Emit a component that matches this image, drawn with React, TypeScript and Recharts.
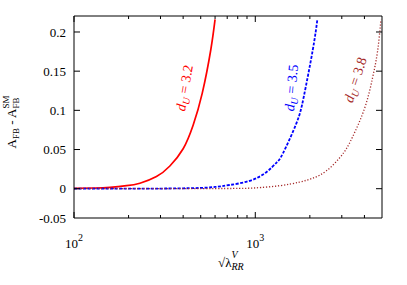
import { Line, LineChart, XAxis, YAxis } from "recharts";

const font = '"Liberation Serif", "DejaVu Serif", "Times New Roman", serif';

// sqrt(lambda) vs A_FB - A_FB^SM
const redX = [100, 130, 158, 195, 231, 285, 338, 400, 454, 510, 568, 600];
const redY = [0.00045, 0.0009, 0.0018, 0.0038, 0.007, 0.0155, 0.029, 0.051, 0.081, 0.122, 0.177, 0.216];

const blueX = [100, 250, 400, 500, 600, 720, 930, 1150, 1306, 1420, 1683, 1850, 2075, 2200];
const blueY = [0, 0.0001, 0.0005, 0.001, 0.0022, 0.0047, 0.01, 0.021, 0.033, 0.045, 0.083, 0.117, 0.177, 0.216];

const brownX = [100, 600, 1000, 1360, 1750, 2080, 2460, 2910, 3200, 3440, 4000, 4440, 4730, 4930];
const brownY = [0, 0.0002, 0.001, 0.0038, 0.0084, 0.0135, 0.0225, 0.039, 0.052, 0.066, 0.102, 0.142, 0.176, 0.216];

const xTicks = [100, 200, 300, 400, 500, 600, 700, 800, 900, 1000, 2000, 3000, 4000];
const xMajor = [100, 1000];
// the frame is cut a little above -0.05 in the picture; its bottom edge carries the "-0.05" label
const yMin = -0.0374;
const yMax = 0.2204;
const yTicks = [yMin, 0, 0.05, 0.1, 0.15, 0.2];
const yTickLabels = ["-0.05", "0", "0.05", "0.1", "0.15", "0.2"];

const toPoints = (xs: number[], ys: number[]) => xs.map((x, i) => ({ x, y: ys[i] }));
const red = toPoints(redX, redY);
const blue = toPoints(blueX, blueY);
const brown = toPoints(brownX, brownY);

function BottomTick(props: any) {
  const { x, y, payload } = props;
  const v = payload.value;
  const major = xMajor.includes(v);
  return (
    <g>
      <line x1={x} y1={y} x2={x} y2={y - (major ? 6 : 3)} stroke="#000" strokeWidth={1} />
      {major ? (
        <text x={x} y={y + 30} textAnchor="middle" fontSize={13} fontFamily={font} fill="#000">
          10
          <tspan fontSize={10} dy={-7}>
            {Math.round(Math.log10(v))}
          </tspan>
        </text>
      ) : null}
    </g>
  );
}

function TopTick(props: any) {
  const { x, y, payload } = props;
  const major = xMajor.includes(payload.value);
  return <line x1={x} y1={y} x2={x} y2={y + (major ? 6 : 3)} stroke="#000" strokeWidth={1} />;
}

function LeftTick(props: any) {
  const { x, y, index } = props;
  return (
    <g>
      {index > 0 ? <line x1={x} y1={y} x2={x + 6} y2={y} stroke="#000" strokeWidth={1} /> : null}
      <text x={x - 8} y={y} dy="0.35em" textAnchor="end" fontSize={13} fontFamily={font} fill="#000">
        {yTickLabels[index]}
      </text>
    </g>
  );
}

function RightTick(props: any) {
  const { x, y, index } = props;
  if (index === 0) return <g />;
  return <line x1={x} y1={y} x2={x - 6} y2={y} stroke="#000" strokeWidth={1} />;
}

function CurveLabel({ cx, cy, angle, color, value }: { cx: number; cy: number; angle: number; color: string; value: string }) {
  return (
    <text
      x={cx}
      y={cy}
      dy={4}
      textAnchor="middle"
      transform={`rotate(${angle} ${cx} ${cy})`}
      fontSize={14}
      fontFamily={font}
      fill={color}
    >
      <tspan fontStyle="italic">d</tspan>
      <tspan fontStyle="italic" fontSize={10} dy={3}>
        U
      </tspan>
      <tspan dy={-3}> = {value}</tspan>
    </text>
  );
}

export default function App() {
  return (
    <div style={{ position: "absolute", left: 0, top: 0, width: 407, height: 285, background: "#fff" }}>
      <LineChart width={407} height={285} margin={{ top: 6, right: 15, bottom: 37, left: 34 }}>
        <XAxis
          dataKey="x"
          type="number"
          scale="log"
          domain={[100, 5000]}
          allowDataOverflow
          ticks={xTicks}
          interval={0}
          height={30}
          tickSize={0}
          tickMargin={0}
          tickLine={false}
          tick={<BottomTick />}
          axisLine={{ stroke: "#555", strokeWidth: 1.5 }}
        />
        <XAxis
          xAxisId="top"
          orientation="top"
          dataKey="x"
          type="number"
          scale="log"
          domain={[100, 5000]}
          allowDataOverflow
          ticks={xTicks}
          interval={0}
          height={10}
          tickSize={0}
          tickMargin={0}
          tickLine={false}
          tick={<TopTick />}
          axisLine={{ stroke: "#000", strokeWidth: 1 }}
        />
        <YAxis
          type="number"
          domain={[yMin, yMax]}
          allowDataOverflow
          ticks={yTicks}
          interval={0}
          width={40}
          tickSize={0}
          tickMargin={0}
          tickLine={false}
          tick={<LeftTick />}
          axisLine={{ stroke: "#000", strokeWidth: 1 }}
        />
        <YAxis
          yAxisId="right"
          orientation="right"
          type="number"
          domain={[yMin, yMax]}
          allowDataOverflow
          ticks={yTicks}
          interval={0}
          width={10}
          tickSize={0}
          tickMargin={0}
          tickLine={false}
          tick={<RightTick />}
          axisLine={{ stroke: "#000", strokeWidth: 1 }}
        />
        <Line data={red} dataKey="y" type="natural" stroke="#ff0000" strokeWidth={1.7} dot={false} isAnimationActive={false} />
        <Line
          data={blue}
          dataKey="y"
          type="natural"
          stroke="#0000ff"
          strokeWidth={1.8}
          strokeDasharray="3 1.5"
          dot={false}
          isAnimationActive={false}
        />
        <Line
          data={brown}
          dataKey="y"
          type="natural"
          stroke="#a52a2a"
          strokeWidth={1.3}
          strokeDasharray="1.2 1.8"
          dot={false}
          isAnimationActive={false}
        />
      </LineChart>
      <svg width={407} height={285} style={{ position: "absolute", left: 0, top: 0, pointerEvents: "none" }}>
        <text x={16} y={122} textAnchor="middle" transform="rotate(-90 16 122)" fontSize={13} fontFamily={font} fill="#000">
          A<tspan fontSize={9} dy={3}>FB</tspan>
          <tspan dy={-3}> - A</tspan>
          <tspan fontSize={9} dy={3}>FB</tspan>
          <tspan fontSize={9} dx={-11} dy={-10}>SM</tspan>
        </text>
        <text x={218} y={267} fontSize={13} fontFamily={font} fill="#000">
          √λ
          <tspan fontSize={10} fontStyle="italic" dy={3}>RR</tspan>
          <tspan fontSize={10} fontStyle="italic" dx={-12} dy={-12}>V</tspan>
        </text>
        <CurveLabel cx={185} cy={88} angle={-80} color="#ff0000" value="3.2" />
        <CurveLabel cx={292} cy={88} angle={-85} color="#0000ff" value="3.5" />
        <CurveLabel cx={356} cy={80} angle={-72} color="#a52a2a" value="3.8" />
      </svg>
    </div>
  );
}
